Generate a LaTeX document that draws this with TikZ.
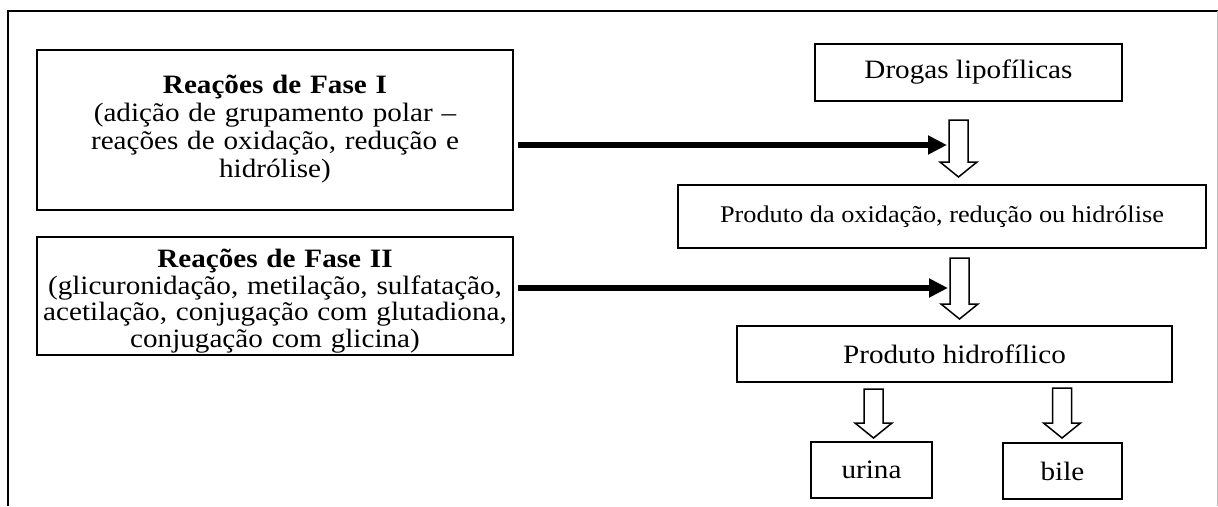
\documentclass[tikz,border=0pt]{standalone}
\usepackage{fontspec}
\setmainfont[FakeStretch=1.1]{Liberation Serif}
\usetikzlibrary{arrows.meta,calc}

\newcommand\mainsize{\fontsize{26.5}{28}\selectfont}
\newcommand\phasetwosize{\fontsize{26.5}{26.7}\selectfont}
\newcommand\smallersize{\fontsize{23.9}{26}\selectfont}

% hollow block arrow pointing down: #1 = top centre, #2 = shaft length
\newcommand\downblock[2]{%
  \draw[blockarrow] (#1) ++(-9.5,0) -- ++(0,#2) -- ++(-9,0) -- ++(18.5,15)
    -- ++(18.5,-15) -- ++(-9,0) -- ++(0,-#2) -- cycle;}

\begin{document}
\begin{tikzpicture}[x=1pt,y=-1pt,
  box/.style={draw, line width=1.8pt, inner sep=0pt, align=center, font=\mainsize},
  boxtext/.style={inner sep=0pt, align=center, text width=470pt, font=\mainsize},
  frameline/.style={line width=2pt},
  thickarrow/.style={line width=5.5pt, -{Triangle[length=19pt,width=18pt]}},
  blockarrow/.style={draw, line width=1.5pt, fill=white, line join=miter}]
\useasboundingbox (0,0) rectangle (1218,506);

% page frame
\draw[frameline] (8,506) -- (8,11) -- (1218,11);
\draw[black!25, line width=1pt] (1217,11) -- (1217,506);

% left column: reaction phases
\node[box, minimum width=476pt, minimum height=160pt] (fase1) at (275,130) {};
\node[boxtext] (fase1txt) at (275,129)
  {\textbf{Reações de Fase I}\\(adição de grupamento polar –\\reações de oxidação, redução e\\hidrólise)};
\node[box, minimum width=476pt, minimum height=118pt] (fase2) at (275,296) {};
\node[boxtext, font=\phasetwosize] (fase2txt) at (275,301)
  {\textbf{Reações de Fase II}\\(glicuronidação, metilação, sulfatação,\\acetilação, conjugação com glutadiona,\\conjugação com glicina)};

% right column: the drug's path
\node[box, minimum width=307pt, minimum height=57pt] (drogas) at (968.5,72.5) {Drogas lipofílicas};
\node[box, minimum width=528pt, minimum height=63pt, font=\smallersize] (oxid) at (942,216.5)
  {Produto da oxidação, redução ou hidrólise};
\node[box, minimum width=435pt, minimum height=56pt] (hidro) at (954.5,354) {Produto hidrofílico};
\node[box, minimum width=121pt, minimum height=56pt] (urina) at (871.5,470) {urina};
\node[box, minimum width=119pt, minimum height=56pt] (bile) at (1062.5,471) {bile};

% hollow arrows between the stages
\coordinate (h1) at (958.5,120);
\coordinate (h2) at (959.5,258);
\coordinate (h3) at (873.5,389);
\coordinate (h4) at (1062,388);
\downblock{h1}{42}
\downblock{h2}{46}
\downblock{h3}{34}
\downblock{h4}{35}

% heavy arrows from the phases to the path
\coordinate (t1) at (947,145);
\coordinate (t2) at (948,288);
\draw[thickarrow] ([xshift=4pt]fase1.east |- t1) -- (t1);
\draw[thickarrow] ([xshift=4pt]fase2.east |- t2) -- (t2);
\end{tikzpicture}
\end{document}
